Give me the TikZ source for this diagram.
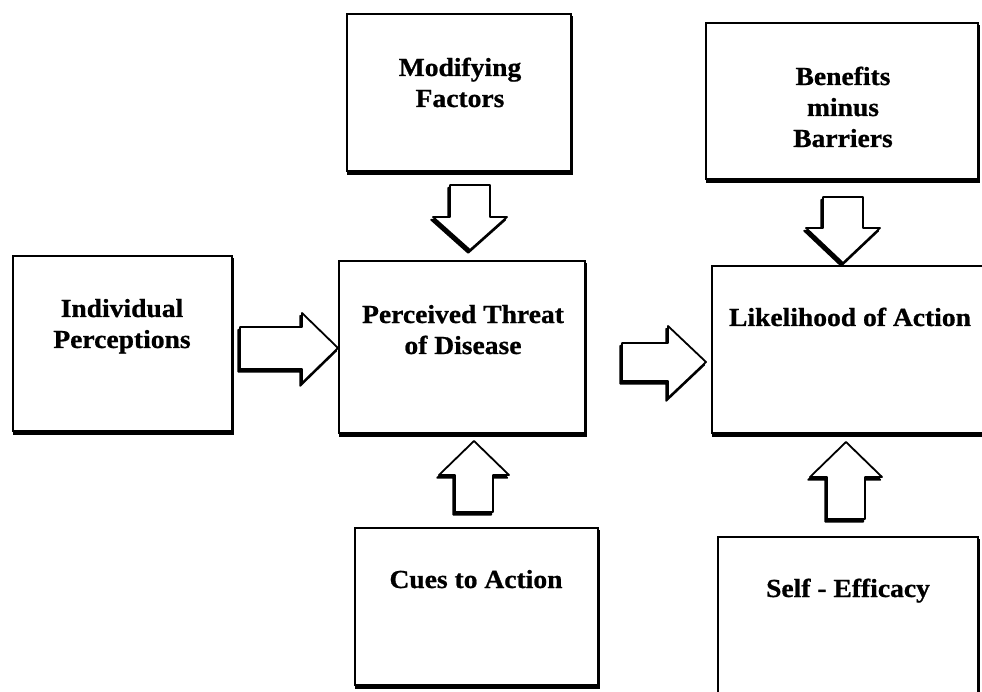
\documentclass[tikz,border=0pt]{standalone}
\usepackage{fontspec}
\setmainfont{Liberation Serif}[FakeStretch=1.06,BoldFeatures={FakeBold=0.8}]
\begin{document}
\begin{tikzpicture}[x=1pt,y=-1pt,
  boxstyle/.style={draw=black,line width=2pt,fill=white,rectangle,inner sep=0pt,anchor=north west},
  boxshadow/.style={fill=black,rectangle,inner sep=0pt,anchor=north west,line width=2pt,draw=black,xshift=1.2pt,yshift=-3pt},
  label/.style={font=\fontsize{26}{31}\selectfont\bfseries,align=center,anchor=base,inner sep=0pt},
  arrowbody/.style={draw=black,fill=white,line width=1.8pt,line join=round},
  arrowshadow/.style={fill=black,draw=black,line width=1.8pt,line join=round}]
\useasboundingbox (0,0) rectangle (982,692);
\clip (0,0) rectangle (982,692);

% box: name, x1, y1, x2, y2
\newcommand\hbmbox[5]{%
  \node[boxshadow,minimum width={#4-#2},minimum height={#5-#3}] at (#2,#3) {};
  \node[boxstyle,minimum width={#4-#2},minimum height={#5-#3}] (#1) at (#2,#3) {};}
% block arrow outline pointing along +x with its tip at the origin
\newcommand\hbmarrowpath[4]{(0,0) -- (-#2,#3) -- (-#2,#4) -- (-#1,#4) -- (-#1,-#4) -- (-#2,-#4) -- (-#2,-#3) -- cycle}
% block arrow: tip x, tip y, angle, total length, head length, head half width, body half width
% the shadow always falls down and to the left
\newcommand\hbmarrow[7]{%
  \begin{scope}[shift={(#1-1.8,#2+2.8)},rotate=#3]
    \path[arrowshadow] \hbmarrowpath{#4}{#5}{#6}{#7};
  \end{scope}
  \begin{scope}[shift={(#1,#2)},rotate=#3]
    \path[arrowbody] \hbmarrowpath{#4}{#5}{#6}{#7};
  \end{scope}}

\hbmbox{mod}{346}{13}{570}{170}
\hbmbox{ind}{12}{255}{231}{430}
\hbmbox{threat}{338}{260}{584}{432}
\hbmbox{like}{711}{265}{996}{432}
\hbmbox{ben}{705}{22}{977}{178}
\hbmbox{cues}{354}{527}{597}{684}
\hbmbox{self}{717}{536}{977}{712}

% block arrows between the boxes
\hbmarrow{338}{348}{0}{98}{36}{35}{21}
\hbmarrow{706}{362}{0}{84}{38}{36}{19}
\hbmarrow{470}{250}{-90}{65}{33}{37}{20}
\hbmarrow{843}{263}{-90}{66}{35}{37}{20}
\hbmarrow{474}{441}{90}{71}{34}{35}{19}
\hbmarrow{846}{442}{90}{77}{35}{36}{19}

% labels (positioned on the baseline of their last line)
\node[label] (tmod) at (460,107) {Modifying\\Factors};
\node[label] (tind) at (122,348) {Individual\\Perceptions};
\node[label] (tthreat) at (463,354) {Perceived Threat\\of Disease};
\node[label] (tlike) at (850,326) {Likelihood of Action};
\node[label] (tben) at (843,147) {Benefits\\minus\\Barriers};
\node[label] (tcues) at (476,588) {Cues to Action};
\node[label] (tself) at (848,597) {Self - Efficacy};
\end{tikzpicture}
\end{document}
